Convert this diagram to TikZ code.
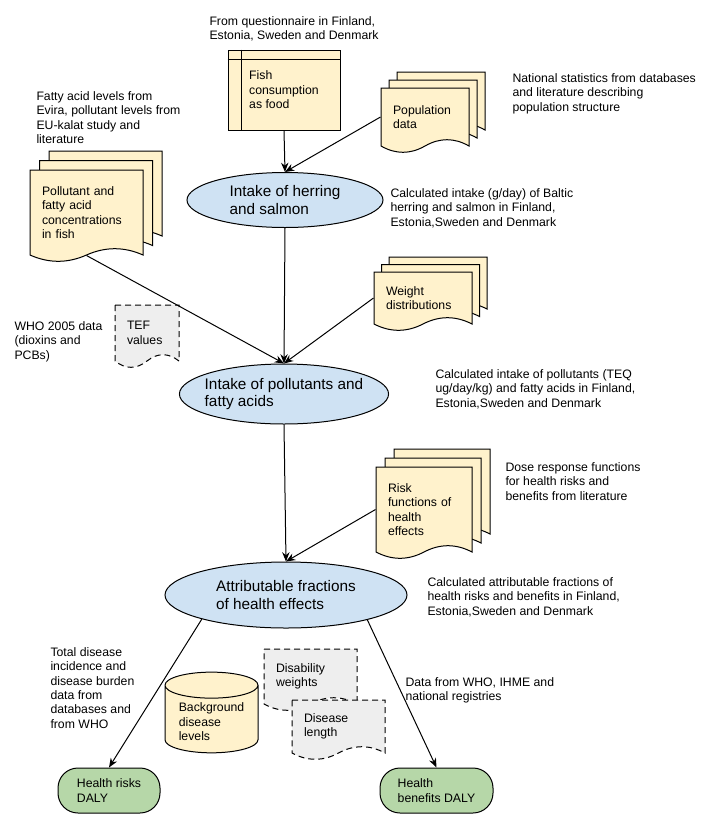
\documentclass[tikz,border=0pt]{standalone}
\usepackage{fontspec}
\setmainfont{Liberation Sans}
\usetikzlibrary{positioning, arrows.meta, shapes.geometric}
\definecolor{sheetfill}{RGB}{255,242,204}
\definecolor{procfill}{RGB}{207,226,243}
\definecolor{outfill}{RGB}{182,215,168}
\definecolor{extfill}{RGB}{238,238,238}
\newcommand{\smallfont}{\fontsize{9.2}{10.8}\selectfont}
\newcommand{\bigfont}{\fontsize{11.5}{13}\selectfont}
\tikzset{
  note/.style     = {anchor=north west, inner sep=0pt, align=left, font=\smallfont},
  doclabel/.style = {inner xsep=9pt, inner ysep=0pt, align=left, font=\smallfont},
  sheet/.style    = {draw, fill=sheetfill},
  extsheet/.style = {draw, fill=extfill, dash pattern=on 4.5pt off 3pt},
  storage/.style  = {rectangle, draw, fill=sheetfill, align=left, font=\smallfont,
                     minimum width=84pt, minimum height=60pt},
  process/.style  = {ellipse, draw, fill=procfill, align=left, font=\bigfont,
                     inner xsep=-4pt, inner ysep=0pt},
  dbstore/.style  = {cylinder, shape border rotate=90, aspect=0.35, draw, fill=sheetfill,
                     align=left, font=\smallfont, minimum width=69.75pt, minimum height=52.5pt},
  outcome/.style  = {rectangle, rounded corners=15pt, draw, fill=outfill, align=left,
                     font=\smallfont, minimum height=33.75pt},
  arr/.style      = {-{Stealth[length=7pt, width=5.5pt]}}
}
% document sheet with a wavy lower edge: style, left, top, width, bottom
\newcommand{\docpath}[5]{%
  \path[#1] (#2,#3) -- (#2+#4,#3) -- (#2+#4,#5-7)
    .. controls (#2+5*#4/6,#5-15.4) and (#2+2*#4/3,#5-15.4) .. (#2+#4/2,#5-7)
    .. controls (#2+#4/3,#5+1.4) and (#2+#4/6,#5+1.4) .. (#2,#5-7) -- cycle;}
% text node on a sheet: name, left, top, width, bottom, text
\newcommand{\docnode}[6]{%
  \pgfmathsetmacro{\docwd}{#4*0.75-18}
  \node[doclabel, text width=\docwd pt, minimum width=#4*0.75pt,
        minimum height=(#5-7-#3)*0.75pt] (#1) at (#2+#4/2,#3/2+#5/2-3.5) {#6};}
% stack of three sheets: name, left, top, width, bottom, offset, text
\newcommand{\docstack}[7]{%
  \docpath{sheet}{#2+2*#6}{#3-2*#6}{#4}{#5-2*#6}
  \docpath{sheet}{#2+#6}{#3-#6}{#4}{#5-#6}
  \docpath{sheet}{#2}{#3}{#4}{#5}
  \docnode{#1}{#2}{#3}{#4}{#5}{#7}}

\begin{document}
\begin{tikzpicture}[x=0.75pt, y=-0.75pt, line width=0.75pt]
\useasboundingbox (0,0) rectangle (718,826);

% inputs
\node[storage] (fish) at (284,90) {Fish\\consumption\\as food};
\draw ([yshift=-7.5pt]fish.north west) -- ([yshift=-7.5pt]fish.north east);
\draw ([xshift=10.5pt]fish.north west) -- ([xshift=10.5pt]fish.south west);
\docstack{pop}{381}{88}{88}{153}{8}{Population\\data}
\docstack{conc}{30}{170}{113}{262}{9.5}{Pollutant and\\fatty acid\\concentrations\\in fish}
\docstack{weight}{374}{272}{98}{331}{7.5}{Weight\\distributions}
\docstack{riskfn}{376}{467}{96}{559}{9}{Risk\\functions of\\health\\effects}
\docpath{extsheet}{115}{305}{64}{368}
\docnode{tef}{115}{305}{64}{368}{TEF\\values}

% calculation steps
\node[process, minimum width=147pt, minimum height=41.25pt] (herring) at (285,200)
  {Intake of herring\\and salmon};
\node[process, minimum width=156pt, minimum height=45pt] (intake) at (284,394)
  {Intake of pollutants and\\fatty acids};
\node[process, minimum width=181.5pt, minimum height=49.5pt] (fractions) at (286,595)
  {Attributable fractions\\of health effects};

% disease data and results
\node[dbstore] (background) at (211.5,722) {Background\\disease\\levels};
\docpath{extsheet}{264}{649}{93}{711}
\docnode{disab}{264}{649}{93}{711}{Disability\\weights}
\docpath{extsheet}{292}{700}{93}{760}
\docnode{duration}{292}{700}{93}{760}{Disease\\length}
\node[outcome, minimum width=76.5pt] (risks) at (109,790.5) {Health risks\\DALY};
\node[outcome, minimum width=84.75pt] (benefits) at (436.5,790.5) {Health\\benefits DALY};

% connectors
\draw[arr] (fish.south) -- (herring.north);
\draw[arr] (pop.west) -- (herring.north);
\draw[arr] (herring.south) -- (intake.north);
\draw[arr] (conc.south) -- (intake.north);
\draw[arr] (weight.west) -- (intake.north);
\draw[arr] (intake.south) -- (fractions.north);
\draw[arr] (riskfn.west) -- (fractions.north);
\draw[arr] (fractions.196) -- (risks.north);
\draw[arr] (fractions.-17) -- (benefits.north);

% source notes
\node[note] (qnote) at (209,16) {From questionnaire in Finland,\\Estonia, Sweden and Denmark};
\node[note] (popnote) at (512,73) {National statistics from databases\\and literature describing\\population structure};
\node[note] (fanote) at (36,91) {Fatty acid levels from\\Evira, pollutant levels from\\EU-kalat study and\\literature};
\node[note] (herringnote) at (390,188) {Calculated intake (g/day) of Baltic\\herring and salmon in Finland,\\Estonia,Sweden and Denmark};
\node[note] (whonote) at (14,321) {WHO 2005 data\\(dioxins and\\PCBs)};
\node[note] (intakenote) at (435,369) {Calculated intake of pollutants (TEQ\\ug/day/kg) and fatty acids in Finland,\\Estonia,Sweden and Denmark};
\node[note] (dosenote) at (505,462) {Dose response functions\\for health risks and\\benefits from literature};
\node[note] (afnote) at (427,577) {Calculated attributable fractions of\\health risks and benefits in Finland,\\Estonia,Sweden and Denmark};
\node[note] (burdennote) at (50,647) {Total disease\\incidence and\\disease burden\\data from\\databases and\\from WHO};
\node[note] (regnote) at (405,677) {Data from WHO, IHME and\\national registries};
\end{tikzpicture}
\end{document}
